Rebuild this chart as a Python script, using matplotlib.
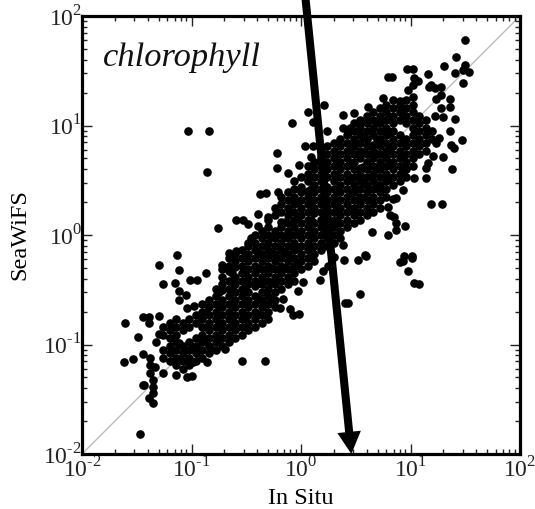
import numpy as np
import matplotlib
matplotlib.use('Agg')
import matplotlib.pyplot as plt
from matplotlib.ticker import LogLocator, NullFormatter

plt.rcParams['font.family'] = ['Liberation Serif', 'DejaVu Serif']
plt.rcParams['mathtext.fontset'] = 'custom'
plt.rcParams['mathtext.rm'] = 'Liberation Serif'

# log10 of chlorophyll
# scattered points that can be told apart
loose_pts = [
    (-1.03, .95), (-.84, .95), (-.86, .575), (-.76, .065), (-1.13, -.18), (-1.30, -.27), (-1.11, -.32),
    (-1.26, -.45), (-1.15, -.44), (-1.01, -.41), (-.95, -.41), (-.87, -.35), (-1.11, -.51), (-1.05, -.55),
    (-1.11, -.59), (-1.04, -.67), (-.98, -.65), (-1.61, -.80), (-1.49, -.93), (-1.62, -1.16), (-1.53, -1.13),
    (-1.44, -.75), (-1.39, -.75), (-1.39, -.80), (-1.30, -.74), (-1.44, -1.09), (-1.38, -1.12), (-1.38, -1.19),
    (-1.33, -1.21), (-1.26, -1.26), (-1.38, -1.26), (-1.44, -1.37), (-1.35, -1.32), (-1.35, -1.39), (-1.14, -1.28),
    (-1.04, -1.30), (-1.00, -1.29), (-.86, -1.16), (-.69, -1.04), (-.82, -1.04), (-1.47, -1.82), (-1.35, -1.53),
    (-1.39, -1.49), (-1.35, -1.44), (-1.43, -1.37), (-.54, -1.15), (-.33, -1.15), (-1.32, -.98), (-1.30, -.90),
    (1.50, 1.78), (1.42, 1.63), (1.31, 1.54), (1.50, 1.55), (1.41, 1.48), (1.48, 1.51), (1.53, 1.49), (1.48, 1.39),
    (1.16, 1.47), (.97, 1.52), (1.02, 1.52), (.79, 1.44), (.83, 1.44), (1.03, 1.43), (1.07, 1.41), (1.19, 1.37),
    (1.28, 1.35), (1.17, 1.35), (1.22, 1.34), (.98, 1.32), (1.02, 1.37), (.75, 1.25), (.90, 1.22), (1.36, 1.24),
    (1.23, 1.24), (1.28, 1.28), (1.28, 1.16), (1.36, 1.17), (1.22, 1.09), (1.30, 1.08), (1.41, 1.06), (1.36, .95),
    (1.47, .87), (1.37, .82), (1.40, .79), (1.26, .89), (1.23, .84), (1.30, .71), (1.21, .72), (1.16, .66),
    (1.14, .61), (1.38, .60), (1.03, .52), (1.14, .52), (.93, .41), (.87, .34), (.84, .33), (1.19, .28), (1.29, .28),
    (.79, .26), (.81, .18), (.85, .16), (.87, .11), (.95, .08), (.87, .05), (.79, 0), (.65, .03), (.38, -.09),
    (.58, -.18), (.94, -.19), (1.01, -.19), (.39, -.23), (.52, -.23), (.59, -.19), (.17, -.41), (.54, -.54),
    (.40, -.62), (.43, -.62), (.93, -.24), (.90, -.25), (1.01, -.21), (.98, -.33), (1.03, -.44), (1.08, -.45),
    (-.03, -.51), (.02, -.43), (-.16, -.58), (-.19, -.67), (-.10, -.68), (-.07, -.73), (-.02, -.72),
    (-.08, 1.02), (.06, 1.12), (.21, 1.19), (-.22, .75), (-.22, .61), (-.12, .57), (-.02, .64), (.04, .81),
    (.11, .81), (.24, .95), (.11, 1.03), (.38, 1.10), (.48, 1.11), (.61, 1.17), (.38, .98), (.43, .93), (.09, .71),
    (-.37, .37), (-.32, .38), (-.21, .39), (-.59, .14), (-.53, .14), (-.48, .10), (-.39, .08), (-.39, .19),
    (-.30, .16), (-.46, -.03), (-.48, -.07), (-.59, -.15), (-.66, -.16), (-.72, -.27), (.45, .98), (.55, 1.03),
    (.20, -.33), (.30, -.20), (.25, -.28),
    (-.72, -.50), (-.66, -.33), (-.60, -.29), (-.42, -.47), (-.18, .12), (0, .44), (.06, .40), (.12, .20),
    (.24, .44), (.54, .61), (.66, .82),
]

# the solid part of the cloud, single dots can't be read there so these are best guesses per column
dense_x = [-1.26, -1.20, -1.14, -1.08, -1.02, -.96, -.90, -.84, -.78, -.72, -.66, -.60, -.54, -.48, -.42, -.36,
           -.30, -.24, -.18, -.12, -.06, 0, .06, .12, .18, .24, .30, .36, .42, .48, .54, .60, .66, .72, .78, .84,
           .90, .96, 1.02, 1.08, 1.14, 1.20]
dense_y = [
    [-.84, -.91, -1.05, -1.12],
    [-.80, -.87, -.94, -1.01, -1.08, -1.15],
    [-.77, -.84, -.91, -.98, -1.05, -1.12, -1.19],
    [-.80, -.87, -1.01, -1.08, -1.15, -1.22],
    [-.77, -.84, -.98, -1.05, -1.12, -1.19],
    [-.73, -.80, -.94, -1.01, -1.08, -1.15],
    [-.63, -.70, -.77, -.84, -.91, -.98, -1.05, -1.12],
    [-.59, -.66, -.73, -.80, -.87, -.94, -1.01, -1.08],
    [-.49, -.56, -.63, -.70, -.77, -.84, -.91, -.98, -1.05],
    [-.31, -.38, -.45, -.59, -.66, -.73, -.80, -.87, -.94, -1.01],
    [-.21, -.28, -.42, -.49, -.56, -.63, -.70, -.77, -.84, -.91, -.98],
    [-.17, -.24, -.38, -.45, -.52, -.59, -.66, -.73, -.80, -.87, -.94],
    [-.14, -.21, -.28, -.35, -.42, -.49, -.56, -.63, -.70, -.77, -.84, -.91],
    [-.10, -.17, -.24, -.31, -.38, -.45, -.52, -.59, -.66, -.73, -.80, -.87],
    [0, -.07, -.14, -.21, -.28, -.35, -.42, -.56, -.63, -.70, -.77, -.84],
    [.04, -.03, -.10, -.17, -.24, -.31, -.38, -.45, -.52, -.59, -.66, -.73, -.80],
    [.14, .07, 0, -.07, -.14, -.21, -.28, -.35, -.42, -.49, -.56, -.63, -.70, -.77],
    [.25, .18, .04, -.03, -.10, -.17, -.24, -.31, -.38, -.45, -.52, -.59, -.66],
    [.35, .28, .21, .07, 0, -.07, -.14, -.21, -.28, -.35, -.42, -.49],
    [.39, .32, .25, .18, .11, .04, -.03, -.10, -.17, -.24, -.31, -.38, -.45],
    [.49, .42, .35, .28, .21, .14, .07, 0, -.07, -.14, -.21, -.28, -.35, -.42],
    [.53, .39, .32, .25, .18, .11, .04, -.03, -.10, -.17, -.24, -.31],
    [.63, .56, .49, .35, .28, .21, .14, .07, 0, -.07, -.14, -.21, -.28],
    [.67, .60, .53, .46, .39, .32, .25, .11, .04, -.03, -.10, -.17, -.24],
    [.77, .70, .63, .56, .49, .42, .35, .28, .21, .14, .07, 0, -.07, -.14],
    [.81, .74, .67, .60, .53, .39, .32, .25, .18, .11, .04, -.03, -.10],
    [.84, .77, .70, .63, .56, .49, .42, .35, .28, .21, .14, .07, 0, -.07],
    [.88, .81, .74, .67, .60, .53, .46, .39, .32, .25, .18, .11, .04, -.03],
    [.91, .84, .77, .70, .63, .56, .49, .42, .35, .28, .21, .14, .07],
    [1.02, .95, .88, .81, .74, .67, .60, .53, .46, .39, .32, .25, .18, .11],
    [1.05, .98, .91, .84, .77, .70, .56, .49, .42, .35, .28, .21, .14],
    [1.09, 1.02, .95, .88, .81, .74, .67, .60, .53, .46, .39, .32, .25, .18],
    [1.12, 1.05, .98, .91, .77, .70, .63, .56, .49, .42, .35, .28, .21],
    [1.16, 1.09, 1.02, .95, .88, .81, .74, .67, .60, .53, .46, .39, .32, .25],
    [1.19, 1.12, 1.05, .98, .91, .84, .77, .70, .63, .56, .49, .42, .35],
    [1.23, 1.16, 1.09, 1.02, .95, .88, .81, .74, .67, .60, .53, .46],
    [1.19, 1.12, 1.05, .91, .84, .77, .70, .63, .56, .49],
    [1.23, 1.16, 1.09, 1.02, .88, .81, .74, .67, .60, .53],
    [1.26, 1.19, 1.12, 1.05, .98, .91, .84, .77, .70, .63],
    [1.09, 1.02, .95, .88, .81, .74],
    [1.05, .98, .91, .84, .77],
    [.95, .88],
]

# more guesses between those columns, the core of the cloud is nearly solid
core_x = [-1.11, -.99, -.87, -.75, -.63, -.51, -.39, -.27, -.15, -.03, .09, .21, .33, .45, .57, .69, .81, .93]
core_y = [
    [-.99, -1.13],
    [-1.02, -1.16],
    [-.70, -.84, -.98],
    [-.52, -.66, -.80, -.94],
    [-.35, -.49, -.63, -.77],
    [-.20, -.34, -.48, -.62, -.76],
    [-.16, -.30, -.44, -.58, -.72],
    [-.02, -.16, -.30, -.44, -.58],
    [.12, -.02, -.16, -.30],
    [.30, .16, .02, -.12, -.26],
    [.42, .28, .14, 0, -.14],
    [.58, .44, .30, .16, .02],
    [.68, .54, .40, .26, .12],
    [.80, .66, .52, .38, .24],
    [.90, .76, .62, .48, .34],
    [1.02, .88, .74, .60, .46],
    [1.08, .94, .80, .66, .52],
    [1.10, .86, .72, .58],
]

ticks = [1e-2, 1e-1, 1e0, 1e1, 1e2]
tick_labels = ['10$^{\\text{-}2}$', '10$^{\\text{-}1}$', '10$^{0}$', '10$^{1}$', '10$^{2}$']

log_x = [p[0] for p in loose_pts]
log_y = [p[1] for p in loose_pts]
for cols_x, cols_y in ((dense_x, dense_y), (core_x, core_y)):
    for cx, col in zip(cols_x, cols_y):
        for cy in col:
            log_x.append(cx)
            log_y.append(cy)
x = 10 ** np.array(log_x)
y = 10 ** np.array(log_y)

W, H = 535, 509
fig = plt.figure(figsize=(W / 100, H / 100), dpi=100)
ax = fig.add_axes([82 / W, (H - 454) / H, (520 - 82) / W, (454 - 16) / H])

ax.plot([1e-2, 1e2], [1e-2, 1e2], color='#bdbdbd', lw=1, zorder=1)
ax.plot(x, y, 'o', color='black', ms=6.2, mew=0, zorder=2)

ax.set_xscale('log')
ax.set_yscale('log')
ax.set_xlim(1e-2, 1e2)
ax.set_ylim(1e-2, 1e2)
ax.set_xticks(ticks)
ax.set_yticks(ticks)
ax.set_xticklabels(tick_labels)
ax.set_yticklabels(tick_labels)
for axis in (ax.xaxis, ax.yaxis):
    axis.set_minor_locator(LogLocator(base=10, subs=np.arange(2, 10), numticks=10))
    axis.set_minor_formatter(NullFormatter())
ax.tick_params(which='major', direction='in', length=7, width=1, top=True, right=True, labelsize=17, pad=2,
               colors='#222222')
ax.tick_params(which='minor', direction='in', length=3.5, width=1, top=True, right=True, colors='#222222')
ax.tick_params(axis='y', which='major', pad=0)
for s in ax.spines.values():
    s.set_linewidth(2.3)

ax.set_xlabel('In Situ', fontsize=17.5, labelpad=4)
ax.set_ylabel('SeaWiFS', fontsize=17.5, labelpad=9)
ax.text(0.047, 0.885, 'chlorophyll', transform=ax.transAxes, fontsize=24.8, style='italic', color='#111111')

ax.annotate('', xy=(10 ** .46, 1e-2), xytext=(10 ** .04, 10 ** 2.17), annotation_clip=False, zorder=5,
            arrowprops=dict(facecolor='black', edgecolor='black', lw=0, width=5.8, headwidth=17, headlength=16,
                            shrink=0))

fig.savefig('out.png', dpi=100)
